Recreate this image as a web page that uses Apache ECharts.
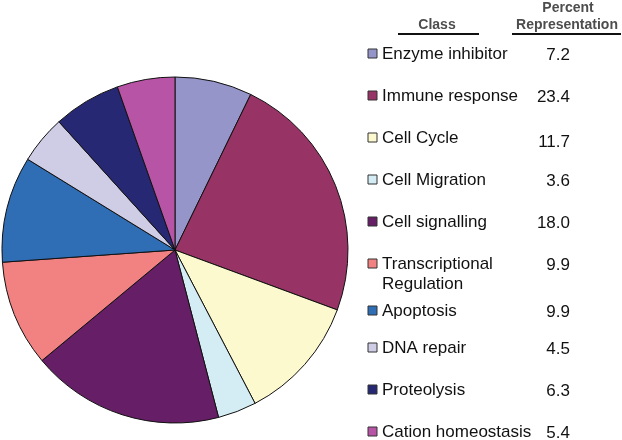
<!DOCTYPE html>
<html>
<head>
<meta charset="utf-8">
<script src="https://cdn.jsdelivr.net/npm/echarts@6/dist/echarts.min.js"></script>
<style>
  html, body { margin: 0; padding: 0; background: #ffffff; }
  #chart { width: 622px; height: 440px; }
</style>
</head>
<body>
<div id="chart"></div>
<script>
// categories, clockwise from 12 o'clock
const classes = [
  'Enzyme inhibitor',
  'Immune response',
  'Cell Cycle',
  'Cell Migration',
  'Cell signalling',
  'Transcriptional\nRegulation',
  'Apoptosis',
  'DNA repair',
  'Proteolysis',
  'Cation homeostasis'
];
const percents = [7.2, 23.4, 11.7, 3.6, 18.0, 9.9, 9.9, 4.5, 6.3, 5.4];
const colors = [
  '#9595c9', '#983366', '#fdf9cf', '#d4ecf3', '#661f66',
  '#f28181', '#2f6db4', '#cfcde6', '#262873', '#b854a5'
];

const chart = echarts.init(document.getElementById('chart'), null, { renderer: 'canvas' });

const font = 'Liberation Sans, Arial, sans-serif';
const rowTop = 54;
const rowStep = 42;

// legend table (class name, colour box, percentage)
const legendItems = [];
classes.forEach((name, i) => {
  const y = rowTop + i * rowStep + (i === 6 ? 5 : 0);
  legendItems.push({
    type: 'rect',
    shape: { x: 368, y: y - 5, width: 9, height: 9 },
    style: { fill: colors[i], stroke: '#333', lineWidth: 1 }
  });
  legendItems.push({
    type: 'text',
    x: 382,
    y: y - 10,
    style: {
      text: name,
      font: '17px ' + font,
      fill: '#111111',
      lineHeight: 20,
      textVerticalAlign: 'top'
    }
  });
  legendItems.push({
    type: 'text',
    x: 570,
    y: y + (i === 2 ? 4 : 1),
    style: {
      text: percents[i].toFixed(1),
      font: '17px ' + font,
      fill: '#111111',
      textAlign: 'right',
      textVerticalAlign: 'middle'
    }
  });
});

const option = {
  backgroundColor: '#ffffff',
  animation: false,
  series: [
    {
      type: 'pie',
      center: [175, 250],
      radius: 173,
      startAngle: 90,
      clockwise: true,
      label: { show: false },
      labelLine: { show: false },
      emphasis: { disabled: true },
      itemStyle: { borderColor: '#111111', borderWidth: 1 },
      data: classes.map((name, i) => ({
        name: name,
        value: percents[i],
        itemStyle: { color: colors[i] }
      }))
    }
  ],
  graphic: [
    {
      type: 'text',
      x: 437, y: 25,
      style: { text: 'Class', font: 'bold 14px ' + font, fill: '#4d4d4d', textAlign: 'center', textVerticalAlign: 'middle' }
    },
    {
      type: 'text',
      x: 568, y: 8,
      style: { text: 'Percent', font: 'bold 14px ' + font, fill: '#4d4d4d', textAlign: 'center', textVerticalAlign: 'middle' }
    },
    {
      type: 'text',
      x: 567, y: 25,
      style: { text: 'Representation', font: 'bold 14px ' + font, fill: '#4d4d4d', textAlign: 'center', textVerticalAlign: 'middle' }
    },
    { type: 'line', shape: { x1: 398, y1: 34, x2: 479, y2: 34 }, style: { stroke: '#111', lineWidth: 2 } },
    { type: 'line', shape: { x1: 512, y1: 34, x2: 621, y2: 34 }, style: { stroke: '#111', lineWidth: 2 } },
    ...legendItems
  ]
};

chart.setOption(option);
</script>
</body>
</html>
